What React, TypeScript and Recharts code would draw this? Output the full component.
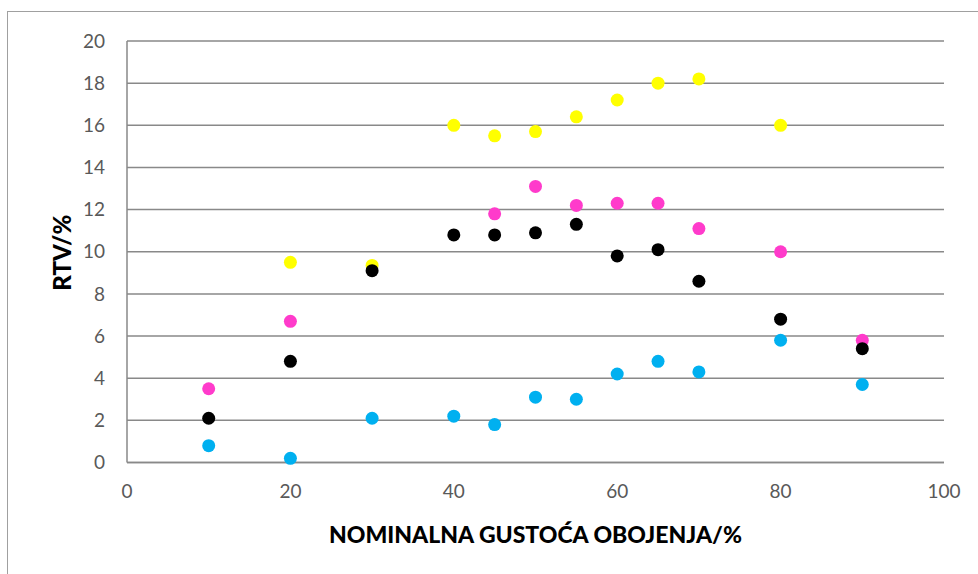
import React from 'react';
import { ScatterChart, Scatter, XAxis, YAxis, CartesianGrid, Label } from 'recharts';

const cyanX = [10, 20, 30, 40, 45, 50, 55, 60, 65, 70, 80, 90];
const cyanY = [0.8, 0.2, 2.1, 2.2, 1.8, 3.1, 3.0, 4.2, 4.8, 4.3, 5.8, 3.7];

const magentaX = [10, 20, 45, 50, 55, 60, 65, 70, 80, 90];
const magentaY = [3.5, 6.7, 11.8, 13.1, 12.2, 12.3, 12.3, 11.1, 10.0, 5.8];

const yellowX = [20, 30, 40, 45, 50, 55, 60, 65, 70, 80];
const yellowY = [9.5, 9.35, 16.0, 15.5, 15.7, 16.4, 17.2, 18.0, 18.2, 16.0];

const blackX = [10, 20, 30, 40, 45, 50, 55, 60, 65, 70, 80, 90];
const blackY = [2.1, 4.8, 9.1, 10.8, 10.8, 10.9, 11.3, 9.8, 10.1, 8.6, 6.8, 5.4];

const xTicks = [0, 20, 40, 60, 80, 100];
const yTicks = [0, 2, 4, 6, 8, 10, 12, 14, 16, 18, 20];

const xTitle = 'NOMINALNA GUSTOĆA OBOJENJA/%';
const yTitle = 'RTV/%';

const zip = (xs: number[], ys: number[]) => xs.map((x, i) => ({ x, y: ys[i] }));

const series = [
  { name: 'C', data: zip(cyanX, cyanY), color: '#00B0F0' },
  { name: 'M', data: zip(magentaX, magentaY), color: '#FF3BCB' },
  { name: 'Y', data: zip(yellowX, yellowY), color: '#FFFF00' },
  { name: 'K', data: zip(blackX, blackY), color: '#000000' },
];

const FONT = 'Lato, "Noto Sans", sans-serif';

const makeDot = (color: string) => (props: any) => (
  <circle cx={props.cx} cy={props.cy} r={6.5} fill={color} />
);

const YTitle = (props: any) => {
  const vb = props.viewBox || { x: 0, y: 0, width: 0, height: 0 };
  const cx = vb.x + 61;
  const cy = vb.y + vb.height / 2 + 1;
  return (
    <text
      x={cx}
      y={cy}
      transform={`rotate(-90 ${cx} ${cy})`}
      textAnchor="middle"
      dominantBaseline="central"
      fontFamily={FONT}
      fontWeight={900}
      fontSize={24}
      fill="#000"
    >
      {yTitle}
    </text>
  );
};

export default function App() {
  return (
    <div style={{ position: 'absolute', left: 0, top: 0, width: 978, height: 574, overflow: 'hidden', background: '#fff' }}>
      <div
        style={{
          position: 'absolute',
          left: 7,
          top: 11,
          width: 1000,
          height: 600,
          border: '1px solid #a0a0a0',
        }}
      />
      <div style={{ position: 'absolute', left: 0, top: 0 }}>
        <ScatterChart width={978} height={574} margin={{ top: 41, right: 34, bottom: 0, left: 0 }}>
          <CartesianGrid vertical={false} stroke="#898989" strokeWidth={1.5} />
          <XAxis
            type="number"
            dataKey="x"
            domain={[0, 100]}
            ticks={xTicks}
            tickLine={false}
            tickSize={0}
            tickMargin={22}
            axisLine={{ stroke: '#898989', strokeWidth: 1.5 }}
            height={111.5}
            tick={{ fill: '#595959', fontSize: 19, fontFamily: FONT }}
          >
            <Label
              value={xTitle}
              position="insideBottom"
              offset={31}
              style={{ fontFamily: FONT, fontWeight: 900, fontSize: 23, fill: '#000' }}
            />
          </XAxis>
          <YAxis
            type="number"
            dataKey="y"
            domain={[0, 20]}
            ticks={yTicks}
            tickLine={false}
            tickSize={0}
            tickMargin={22}
            width={127}
            axisLine={{ stroke: '#898989', strokeWidth: 1.5 }}
            tick={{ fill: '#595959', fontSize: 19, fontFamily: FONT }}
          >
            <Label content={YTitle} />
          </YAxis>
          {series.map((s) => (
            <Scatter
              key={s.name}
              name={s.name}
              data={s.data}
              fill={s.color}
              shape={makeDot(s.color)}
              isAnimationActive={false}
            />
          ))}
        </ScatterChart>
      </div>
    </div>
  );
}
